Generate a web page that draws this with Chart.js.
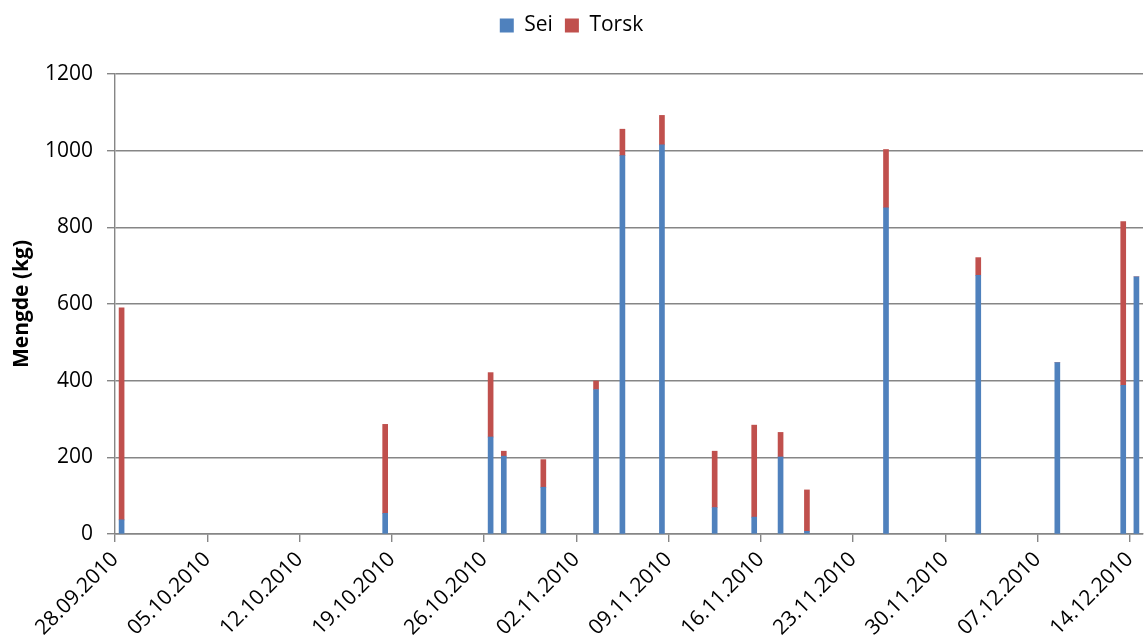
<!DOCTYPE html>
<html lang="no">
<head>
<meta charset="UTF-8">
<title>Mengde sei og torsk</title>
<script src="https://cdn.jsdelivr.net/npm/chart.js"></script>
<style>
    html, body { margin: 0; padding: 0; background: #fff; overflow: hidden; }
    #wrap { width: 1145px; height: 644px; }
</style>
</head>
<body>
<div id="wrap"><canvas id="chart"></canvas></div>
<script>
    // fangstdager og mengder (kg)
    const catchDates = ['28.09.2010', '18.10.2010', '26.10.2010', '27.10.2010', '30.10.2010',
        '03.11.2010', '05.11.2010', '08.11.2010', '12.11.2010', '15.11.2010', '17.11.2010',
        '19.11.2010', '25.11.2010', '02.12.2010', '08.12.2010', '13.12.2010', '14.12.2010'];
    const sei   = [37, 54, 253, 203, 122, 377, 987, 1015, 69, 44, 201, 7, 851, 675, 447, 388, 671];
    const torsk = [553, 232, 168, 13, 72, 22, 69, 77, 147, 240, 64, 108, 152, 46, 0, 427, 0];

    const tickLabels = ['28.09.2010', '05.10.2010', '12.10.2010', '19.10.2010', '26.10.2010',
        '02.11.2010', '09.11.2010', '16.11.2010', '23.11.2010', '30.11.2010', '07.12.2010', '14.12.2010'];
    const yTicks = [0, 200, 400, 600, 800, 1000, 1200];

    // dager siden første dato
    function dayIndex(s) {
        const p = s.split('.');
        const t = Date.UTC(+p[2], +p[1] - 1, +p[0]);
        const q = tickLabels[0].split('.');
        const t0 = Date.UTC(+q[2], +q[1] - 1, +q[0]);
        return Math.round((t - t0) / 86400000);
    }

    const lastDay = dayIndex(tickLabels[tickLabels.length - 1]);

    // hver dag er en "slot", søylen står midt i dagen
    const toPoints = vals => vals.map((v, i) => ({ x: dayIndex(catchDates[i]) + 0.5, y: v }));

    const font = { family: 'Open Sans', size: 21 };
    const gridColor = '#868686';

    // litt luft mellom legend og plottet
    const legendGap = {
        id: 'legendGap',
        beforeInit(chart) {
            const fit = chart.legend.fit;
            chart.legend.fit = function () {
                fit.call(this);
                this.height += 28;
            };
        }
    };

    new Chart(document.getElementById('chart'), {
        type: 'bar',
        data: {
            datasets: [{
                label: 'Sei',
                data: toPoints(sei),
                backgroundColor: '#4F81BD',
                barThickness: 5
            }, {
                label: 'Torsk',
                data: toPoints(torsk),
                backgroundColor: '#C0504D',
                barThickness: 5
            }]
        },
        options: {
            responsive: true,
            maintainAspectRatio: false,
            animation: false,
            layout: { padding: { top: 3, right: 2, left: 0, bottom: 0 } },
            plugins: {
                legend: {
                    position: 'top',
                    labels: {
                        boxWidth: 14,
                        boxHeight: 14,
                        padding: 12,
                        color: '#000',
                        font: font
                    }
                },
                tooltip: { enabled: false }
            },
            scales: {
                x: {
                    type: 'linear',
                    stacked: true,
                    offset: false,
                    min: 0,
                    max: lastDay + 1,
                    afterBuildTicks: scale => {
                        scale.ticks = tickLabels.map(t => ({ value: dayIndex(t) }));
                    },
                    afterFit: scale => {
                        scale.height = 110;
                        scale.paddingRight = 0;
                    },
                    ticks: {
                        autoSkip: false,
                        minRotation: 45,
                        maxRotation: 45,
                        padding: 5,
                        color: '#000',
                        font: font,
                        callback: (v, i) => tickLabels[i]
                    },
                    grid: {
                        offset: false,
                        drawOnChartArea: false,
                        drawTicks: true,
                        tickLength: 8,
                        color: gridColor,
                        lineWidth: 1.4
                    },
                    border: { color: gridColor, width: 1.4 }
                },
                y: {
                    stacked: true,
                    min: 0,
                    max: 1200,
                    afterBuildTicks: scale => {
                        scale.ticks = yTicks.map(v => ({ value: v }));
                    },
                    afterFit: scale => { scale.width = 115; },
                    ticks: {
                        padding: 14,
                        color: '#000',
                        font: font,
                        callback: v => String(v)
                    },
                    grid: {
                        color: gridColor,
                        lineWidth: 1.4,
                        tickLength: 8
                    },
                    border: { color: gridColor, width: 1.4 },
                    title: {
                        display: true,
                        text: 'Mengde (kg)',
                        color: '#000',
                        font: { family: 'Open Sans', size: 21, weight: 'bold' },
                        padding: { top: 9, bottom: 0 }
                    }
                }
            }
        },
        plugins: [legendGap]
    });
</script>
</body>
</html>
